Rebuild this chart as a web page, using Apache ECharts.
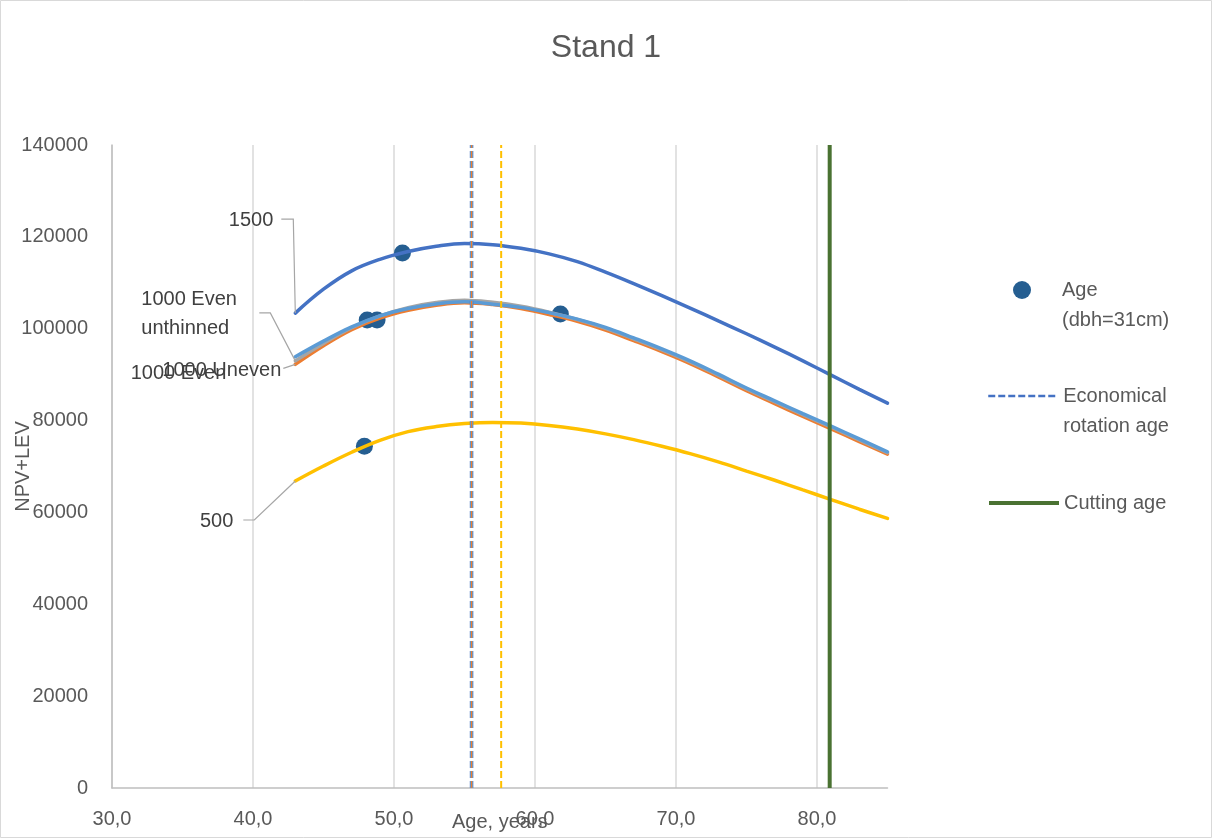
<!DOCTYPE html>
<html>
<head>
<meta charset="utf-8">
<script src="https://cdn.jsdelivr.net/npm/echarts@6/dist/echarts.min.js"></script>
<style>
  html, body { margin: 0; padding: 0; background: #ffffff; }
  #chart { width: 1212px; height: 838px; }
</style>
</head>
<body>
<div id="chart"></div>
<script>
// Stand 1: NPV+LEV by stand age for each stocking regime
const ages = [43, 45, 47, 49, 51, 53, 55, 57, 59, 61, 63, 65, 67, 69, 71, 73, 75, 77, 79, 81, 83, 85];
const npv1500 = [103400, 108600, 112600, 115100, 116800, 117950, 118550, 118300, 117500, 116300, 114600, 112300, 109800, 107200, 104500, 101700, 98900, 96000, 93000, 89900, 86800, 83800];
const npv1000EvenUnthinned = [93000, 96800, 100200, 102800, 104600, 105700, 106200, 105750, 104900, 103600, 102000, 100100, 97800, 95400, 92800, 89900, 86900, 84100, 81300, 78600, 75800, 73000];
const npv1000Uneven = [92250, 96300, 99800, 102300, 104000, 105100, 105650, 105250, 104400, 103100, 101600, 99700, 97400, 95000, 92400, 89500, 86500, 83700, 80900, 78200, 75400, 72700];
const npv1000Even = [93900, 97300, 100400, 102800, 104400, 105400, 105850, 105350, 104650, 103500, 102100, 100300, 98000, 95600, 93000, 90100, 87100, 84300, 81500, 78800, 76000, 73200];
const npv500 = [66840, 70100, 73100, 75700, 77600, 78700, 79350, 79600, 79450, 78950, 78150, 77100, 75850, 74400, 72800, 71000, 69000, 67000, 64900, 62800, 60700, 58700];

// Age at which dbh reaches 31 cm, with the NPV+LEV at that age
const dbhAges = [47.9, 48.1, 48.8, 50.6, 61.8];
const dbhValues = [74400, 101900, 101900, 116500, 103200];

// Economical rotation ages and the actual cutting age
const rotationAge1500 = 55.5;
const rotationAge1000 = 55.5;
const rotationAge500 = 57.6;
const cuttingAge = 80.9;

// Axis ticks
const xTicks = [30, 40, 50, 60, 70, 80];
const yMin = 0, yMax = 140000, yStep = 20000;
const xMin = 30, xMax = 85;

const FONT = 'Liberation Sans';
const TEXT = '#595959';

const NAME_DBH = 'Age\n(dbh=31cm)';
const NAME_ROT = 'Economical\nrotation age';
const NAME_CUT = 'Cutting age';

function curve(name, values, color, z) {
  return {
    name: name,
    type: 'line',
    data: ages.map((a, i) => [a, values[i]]),
    smooth: 0.4,
    showSymbol: false,
    symbol: 'none',
    lineStyle: { color: color, width: 3.5, cap: 'round' },
    itemStyle: { color: color },
    z: z,
    silent: true
  };
}

function vline(name, age, color, width, type, z) {
  return {
    name: name,
    type: 'line',
    data: [[age, yMin], [age, yMax]],
    showSymbol: false,
    symbol: 'none',
    lineStyle: { color: color, width: width, type: type },
    itemStyle: { color: color },
    z: z,
    silent: true
  };
}

// Curve name tags sit beside the first point of each curve.
// dx/dy place the tag; guide lists the leader's bend and end, in pixels from the point.
const curveTags = [
  { text: '1500', values: npv1500, dx: -22, dy: -93, align: 'right', guide: [[-2, -94], [-14, -94]] },
  { text: '1000 Even\nunthinned', values: npv1000EvenUnthinned, dx: -154, dy: -47, align: 'left', guide: [[-25, -48], [-36, -48]] },
  { text: '1000 Uneven', values: npv1000Uneven, dx: -14, dy: 6, align: 'right', guide: [[-12, 4]] },
  { text: '1000 Even', values: npv1000Even, dx: -69, dy: 17, align: 'right', guide: null },
  { text: '500', values: npv500, dx: -62, dy: 40, align: 'right', guide: [[-41, 39], [-52, 39]] }
];

function renderTag(params, api) {
  const t = curveTags[params.dataIndex];
  const p = api.coord([api.value(0), api.value(1)]);
  const children = [];
  if (t.guide) {
    children.push({
      type: 'polyline',
      shape: { points: [p].concat(t.guide.map(g => [p[0] + g[0], p[1] + g[1]])) },
      style: { stroke: '#A6A6A6', lineWidth: 1.2, fill: null }
    });
  }
  children.push({
    type: 'text',
    x: p[0] + t.dx,
    y: p[1] + t.dy,
    style: {
      text: t.text,
      align: t.align,
      verticalAlign: 'middle',
      fontFamily: FONT,
      fontSize: 20,
      lineHeight: 29,
      fill: '#404040'
    }
  });
  return { type: 'group', children: children };
}

const legendText = { fontFamily: FONT, fontSize: 20, color: TEXT, lineHeight: 30 };
// Two-line entries get a blank first line so the key sits beside the entry's first line
const twoLine = name => '\n' + name;

const chart = echarts.init(document.getElementById('chart'), null, { renderer: 'canvas' });

const option = {
  backgroundColor: '#ffffff',
  animation: false,
  textStyle: { fontFamily: FONT },
  title: {
    text: 'Stand 1',
    left: 'center',
    top: 27,
    textStyle: { fontFamily: FONT, fontSize: 32, fontWeight: 'normal', color: TEXT }
  },
  graphic: [{
    type: 'rect',
    shape: { x: 0.5, y: 0.5, width: 1211, height: 837 },
    style: { fill: 'none', stroke: '#D9D9D9', lineWidth: 1 },
    silent: true
  }],
  legend: [
    {
      data: [NAME_DBH],
      orient: 'vertical', left: 1013, top: 245, padding: 0,
      itemWidth: 70, itemHeight: 18, itemGap: 0,
      selectedMode: false,
      formatter: twoLine,
      textStyle: legendText
    },
    {
      data: [NAME_ROT],
      orient: 'vertical', left: 987, top: 351, padding: 0,
      itemWidth: 70, itemHeight: 18, itemGap: 0,
      selectedMode: false,
      formatter: twoLine,
      itemStyle: { opacity: 0 },
      lineStyle: { width: 2.5 },
      textStyle: legendText
    },
    {
      data: [NAME_CUT],
      orient: 'vertical', left: 987, top: 488, padding: 0,
      itemWidth: 70, itemHeight: 18, itemGap: 0,
      selectedMode: false,
      itemStyle: { opacity: 0 },
      lineStyle: { width: 4 },
      textStyle: legendText
    }
  ],
  grid: { left: 112, top: 145, width: 775.5, bottom: 50, containLabel: false, outerBoundsMode: 'none' },
  xAxis: {
    type: 'value',
    min: xMin, max: xMax, interval: 10,
    name: 'Age, years',
    nameLocation: 'middle',
    nameGap: 24,
    nameMoveOverlap: false,
    nameTextStyle: { fontFamily: FONT, fontSize: 20, color: TEXT, verticalAlign: 'top' },
    axisLine: { show: true, lineStyle: { color: '#BFBFBF', width: 1.5 } },
    axisTick: { show: false, customValues: xTicks },
    axisLabel: {
      customValues: xTicks,
      margin: 21,
      fontFamily: FONT, fontSize: 20, color: TEXT,
      formatter: v => v.toFixed(1).replace('.', ',')
    },
    splitLine: { show: true, lineStyle: { color: '#D9D9D9', width: 1.5 } }
  },
  yAxis: {
    type: 'value',
    min: yMin, max: yMax, interval: yStep,
    name: 'NPV+LEV',
    nameLocation: 'middle',
    nameGap: 79,
    nameMoveOverlap: false,
    nameTextStyle: { fontFamily: FONT, fontSize: 20, color: TEXT },
    axisLine: { show: true, lineStyle: { color: '#BFBFBF', width: 1.5 } },
    axisTick: { show: false },
    axisLabel: { margin: 24, fontFamily: FONT, fontSize: 20, color: TEXT, formatter: v => String(v) },
    splitLine: { show: false }
  },
  series: [
    {
      name: NAME_DBH,
      type: 'scatter',
      data: dbhAges.map((a, i) => [a, dbhValues[i]]),
      symbol: 'circle',
      symbolSize: 17,
      itemStyle: { color: '#255E91', opacity: 1 },
      z: 2,
      silent: true
    },
    curve('1500', npv1500, '#4472C4', 3),
    curve('1000 Uneven', npv1000Uneven, '#ED7D31', 3),
    curve('1000 Even unthinned', npv1000EvenUnthinned, '#A5A5A5', 3),
    curve('1000 Even', npv1000Even, '#5B9BD5', 3),
    curve('500', npv500, '#FFC000', 3),
    {
      name: 'curve tags',
      type: 'custom',
      data: curveTags.map(t => [ages[0], t.values[0]]),
      renderItem: renderTag,
      clip: false,
      z: 4,
      silent: true
    },
    vline(NAME_ROT, rotationAge1500, '#4472C4', 3.5, [7, 3], 5),
    vline('Economical rotation age 1000 Even unthinned', rotationAge1000, '#A5A5A5', 2, [7, 3], 5),
    vline('Economical rotation age 1000 Even', rotationAge1000, '#5B9BD5', 3, [7, 3], 5),
    vline('Economical rotation age 1000 Uneven', rotationAge1000, '#ED7D31', 1.3, [7, 3], 6),
    vline('Economical rotation age 500', rotationAge500, '#FFC000', 2, [7, 3], 5),
    vline(NAME_CUT, cuttingAge, '#4A7232', 4, 'solid', 6)
  ]
};

chart.setOption(option);
</script>
</body>
</html>
